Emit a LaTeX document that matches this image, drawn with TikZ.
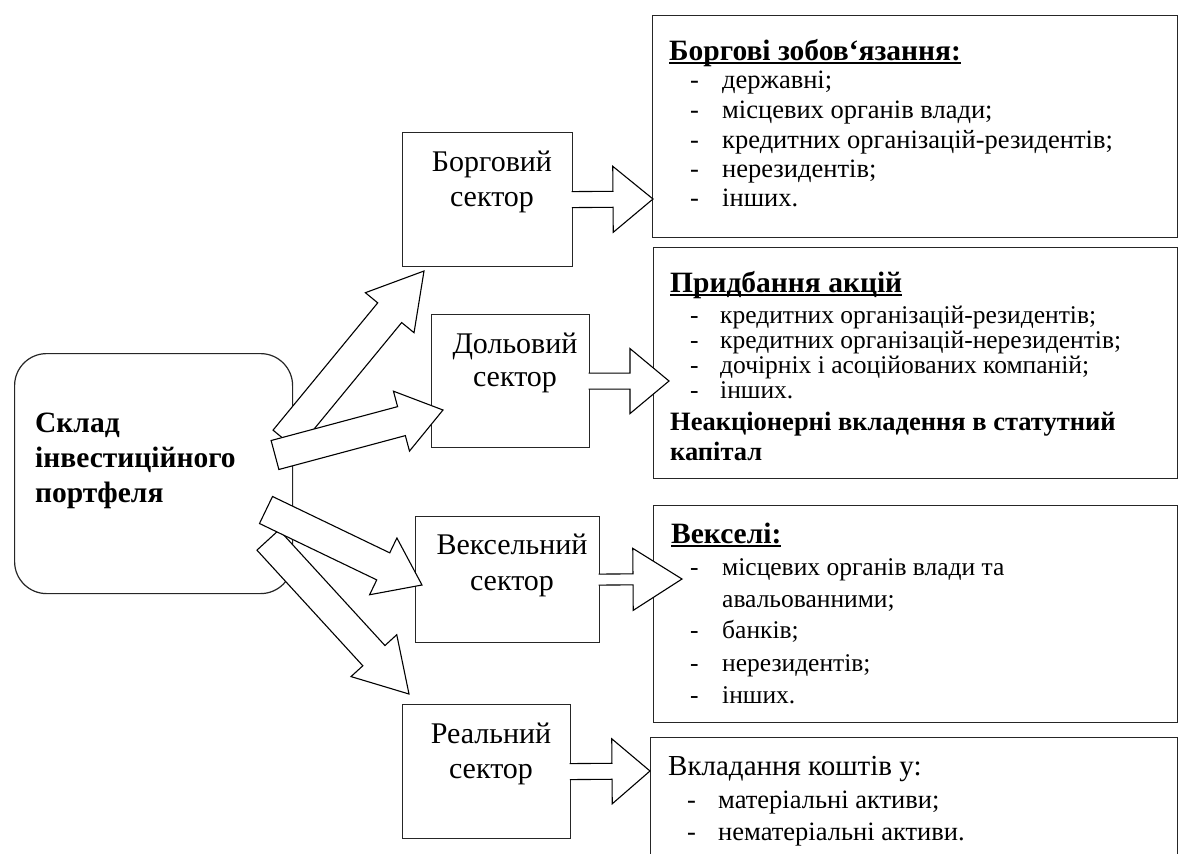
\documentclass[tikz,border=0pt]{standalone}
\usepackage{fontspec}
\setmainfont{Liberation Serif}
\usetikzlibrary{calc}
\newcommand\myul[1]{\setbox0\hbox{#1}\rlap{\rule[-3.5pt]{\wd0}{1.3pt}}\box0}
% closed block arrow
\newcommand\blockarrow[5]{%
  \coordinate (ba-h) at ($(#2)!#5!(#1)$);
  \draw[blockarr] ($(#1)!#3!90:(#2)$) -- ($(ba-h)!#3!-90:(#1)$) -- ($(ba-h)!#4!-90:(#1)$) -- (#2)
    -- ($(ba-h)!#4!90:(#1)$) -- ($(ba-h)!#3!90:(#1)$) -- ($(#1)!#3!-90:(#2)$) -- cycle;}
% block arrow with open tail (joins a box)
\newcommand\openarrow[5]{%
  \coordinate (ba-h) at ($(#2)!#5!(#1)$);
  \fill[white] ($(#1)!#3!90:(#2)$) -- ($(ba-h)!#3!-90:(#1)$) -- ($(ba-h)!#4!-90:(#1)$) -- (#2)
    -- ($(ba-h)!#4!90:(#1)$) -- ($(ba-h)!#3!90:(#1)$) -- ($(#1)!#3!-90:(#2)$) -- cycle;
  \draw[blockarr] ($(#1)!#3!90:(#2)$) -- ($(ba-h)!#3!-90:(#1)$) -- ($(ba-h)!#4!-90:(#1)$) -- (#2)
    -- ($(ba-h)!#4!90:(#1)$) -- ($(ba-h)!#3!90:(#1)$) -- ($(#1)!#3!-90:(#2)$);}
\newcommand\itm[6]{\node[txt, font=\fontsize{#6}{30}\selectfont] (#1d) at (#2,#4) {-}; \node[txt, font=\fontsize{#6}{30}\selectfont] (#1) at (#3,#4) {#5};}
\tikzset{
  box/.style={draw=black!85, line width=1.2pt, rectangle, anchor=north west, inner sep=0pt, fill=white},
  blockarr/.style={draw=black, line width=1.1pt, fill=white, line join=miter},
  txt/.style={anchor=base west, inner sep=0pt},
  htxt/.style={anchor=base west, inner sep=0pt, font=\bfseries\fontsize{29.5}{32}\selectfont},
  btxt/.style={anchor=base west, inner sep=0pt, font=\bfseries\fontsize{26.5}{30}\selectfont},
  stxt/.style={anchor=base, inner sep=0pt, font=\fontsize{30}{35}\selectfont},
  mtxt/.style={anchor=base west, inner sep=0pt, font=\bfseries\fontsize{29.5}{35}\selectfont},
}
\begin{document}
\begin{tikzpicture}[x=1pt,y=-1pt]
\useasboundingbox (0,0) rectangle (1179,854);
% right boxes
\node[box, minimum width=525pt, minimum height=222pt] (r1) at (652,15) {};
\node[box, minimum width=524pt, minimum height=231pt] (r2) at (653,247) {};
\node[box, minimum width=524pt, minimum height=217pt] (r3) at (653,505) {};
\node[box, minimum width=527pt, minimum height=140pt] (r4) at (650,737) {};
% sector boxes
\node[box, minimum width=170pt, minimum height=134pt] (bor) at (402,132) {};
\node[box, minimum width=158pt, minimum height=133pt] (dol) at (431,314) {};
\node[box, minimum width=184pt, minimum height=126pt] (vek) at (415,516) {};
\node[box, minimum width=168pt, minimum height=134pt] (rea) at (402,704) {};
% main box
\node[box, rounded corners=32pt, minimum width=278pt, minimum height=240pt] (main) at (14,353) {};
% small arrows
\coordinate (borS) at ([xshift=-1.5pt]bor.east); \coordinate (borT) at (653,199);
\coordinate (dolS) at ([xshift=-1.5pt]dol.east); \coordinate (dolT) at (669,381);
\coordinate (vekS) at ([xshift=-1.5pt]vek.east); \coordinate (vekT) at (682,579);
\coordinate (reaS) at ([xshift=-1.5pt]rea.east); \coordinate (reaT) at (650,771);
\openarrow{borS}{borT}{8pt}{33pt}{40pt}
\openarrow{dolS}{dolT}{8pt}{32.5pt}{39pt}
\openarrow{vekS}{vekT}{5.5pt}{31pt}{49pt}
\openarrow{reaS}{reaT}{8pt}{32.5pt}{38pt}
% big arrows
\coordinate (a1s) at (285,440); \coordinate (a1e) at (424,271);
\coordinate (a2s) at (275,455); \coordinate (a2e) at (443,410);
\coordinate (a3s) at (266,510); \coordinate (a3e) at (422,585);
\coordinate (a4s) at (268,540); \coordinate (a4e) at (409,694);
\blockarrow{a1s}{a1e}{15.5pt}{31.5pt}{54pt}
\blockarrow{a4s}{a4e}{15pt}{31pt}{52pt}
\blockarrow{a2s}{a2e}{15pt}{31pt}{43pt}
\blockarrow{a3s}{a3e}{15pt}{31.5pt}{43pt}
% main text
\node[mtxt] (m1) at (35,432) {Склад};
\node[mtxt] (m2) at (35,467) {інвестиційного};
\node[mtxt] (m3) at (35,502) {портфеля};
% sector texts
\node[stxt] (bt1) at (492,171) {Борговий};
\node[stxt] (bt2) at (492,206) {сектор};
\node[stxt] (dt1) at (515,353) {Дольовий};
\node[stxt] (dt2) at (515,386) {сектор};
\node[stxt] (vt1) at (512,554) {Вексельний};
\node[stxt] (vt2) at (512,590) {сектор};
\node[stxt] (rt1) at (491,743) {Реальний};
\node[stxt] (rt2) at (491,778) {сектор};
% box 1
\node[htxt] (h1) at (669,60) {\myul{Боргові зобов‘язання:}};
\itm{i11}{690}{722}{88}{державні;}{26.5}
\itm{i12}{690}{722}{118}{місцевих органів влади;}{26.5}
\itm{i13}{690}{722}{148}{кредитних організацій-резидентів;}{26.5}
\itm{i14}{690}{722}{177}{нерезидентів;}{26.5}
\itm{i15}{690}{722}{206}{інших.}{26.5}
% box 2
\node[htxt] (h2) at (670,292) {\myul{Придбання акцій}};
\itm{i21}{690}{720}{323}{кредитних організацій-резидентів;}{25.5}
\itm{i22}{690}{720}{348}{кредитних організацій-нерезидентів;}{25.5}
\itm{i23}{690}{720}{373}{дочірніх і асоційованих компаній;}{25.5}
\itm{i24}{690}{720}{398}{інших.}{25.5}
\node[btxt] (n21) at (670,430) {Неакціонерні вкладення в статутний};
\node[btxt] (n22) at (670,460) {капітал};
% box 3
\node[htxt] (h3) at (671,543) {\myul{Векселі:}};
\itm{i31}{690}{722}{575}{місцевих органів влади та}{25.5}
\node[txt, font=\fontsize{25.5}{30}\selectfont] (i31b) at (722,607) {авальованними;};
\itm{i32}{690}{722}{638}{банків;}{25.5}
\itm{i33}{690}{722}{671}{нерезидентів;}{25.5}
\itm{i34}{690}{722}{703}{інших.}{25.5}
% box 4
\node[txt, font=\fontsize{29}{32}\selectfont] (h4) at (668,775) {Вкладання коштів у:};
\itm{i41}{687}{718}{808}{матеріальні активи;}{26.5}
\itm{i42}{687}{718}{840}{нематеріальні активи.}{26.5}
\end{tikzpicture}
\end{document}
